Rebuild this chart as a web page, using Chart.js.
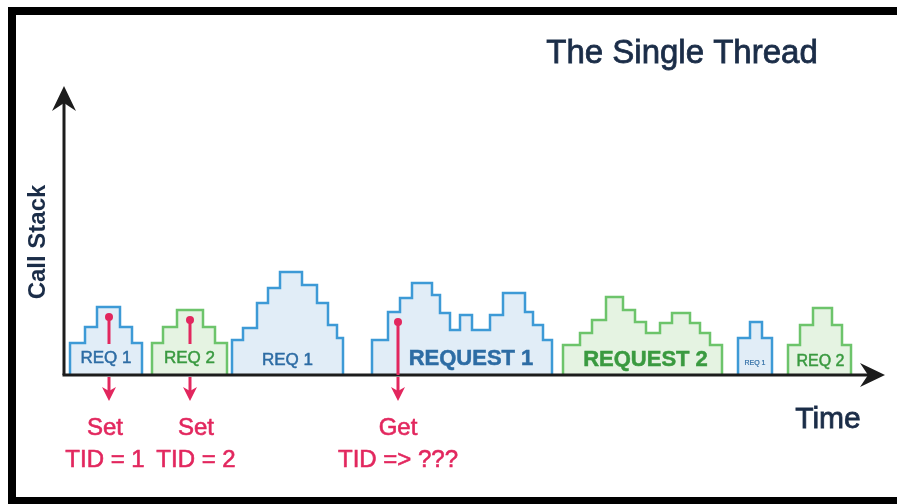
<!DOCTYPE html>
<html>
<head>
<meta charset="utf-8">
<script src="https://cdn.jsdelivr.net/npm/chart.js"></script>
<style>
  html, body { margin: 0; padding: 0; background: #fff; }
  #wrap { position: relative; width: 897px; height: 504px; }
</style>
</head>
<body>
<div id="wrap"><canvas id="threadChart" width="897" height="504"></canvas></div>
<script>
// each block: time breakpoints (start of every step + end) and call stack depth of each step
const blockLabels  = ['REQ 1', 'REQ 2', 'REQ 1', 'REQUEST 1', 'REQUEST 2', 'REQ 1', 'REQ 2'];
const blockRequest = [1, 2, 1, 1, 2, 1, 2];

const req1aTimes = [6, 21, 33, 56, 68, 78];
const req1aDepth = [32, 48, 68, 48, 32];
const req2aTimes = [88, 99, 113, 139, 151, 163];
const req2aDepth = [32, 48, 65, 48, 32];
const req1bTimes = [168, 179, 193, 204, 216, 238, 253, 264, 273, 279];
const req1bDepth = [35, 47, 72, 87, 103, 90, 72, 50, 37];
const req1cTimes = [308, 324, 336, 348, 368, 376, 386, 396, 408, 426, 439, 461, 469, 479, 488];
const req1cDepth = [35, 63, 77, 92, 80, 62, 45, 60, 45, 60, 82, 63, 50, 35];
const req2bTimes = [499, 516, 528, 542, 559, 571, 582, 596, 608, 626, 636, 646, 658];
const req2bDepth = [30, 42, 55, 78, 65, 53, 42, 52, 62, 52, 42, 30];
const req1dTimes = [674, 686, 698, 708];
const req1dDepth = [37, 53, 37];
const req2cTimes = [724, 736, 749, 768, 778, 787];
const req2cDepth = [30, 50, 67, 50, 30];

// thread-local storage calls
const pinTimes  = [45, 126, 334];
const pinDepth  = [58, 55, 53];
const pinAction = ['Set', 'Set', 'Get'];
const pinValue  = ['TID = 1', 'TID = 2', 'TID => ???'];

const timeMax = 820;
const depthMax = 288;

const blocks = [
  [req1aTimes, req1aDepth], [req2aTimes, req2aDepth], [req1bTimes, req1bDepth],
  [req1cTimes, req1cDepth], [req2bTimes, req2bDepth], [req1dTimes, req1dDepth],
  [req2cTimes, req2cDepth]
];

// styles
const reqStroke = { 1: '#3d9ad6', 2: '#6dc46b' };
const reqFill   = { 1: '#e1edf7', 2: '#e5f3e2' };
const reqText   = { 1: '#2d6ca4', 2: '#3a9a40' };
const labelFont  = ['17px', '17px', '17px', 'bold 22px', 'bold 22px', '7px', '16px'];
const labelNudge = [0, 0, 0, 9, 3, 0, 1];
const labelDrop  = [12, 12, 10, 10, 9, 10, 9];
const pinNudge   = [-4, 6, 0];
const axisColor = '#1c1c1c';
const inkColor  = '#1b2d48';
const pinColor  = '#e2275e';
const FONT = '"Liberation Sans", Arial, Helvetica, sans-serif';

function stepPoints(times, depth) {
  const pts = [{ x: times[0], y: 0 }];
  depth.forEach((d, i) => pts.push({ x: times[i], y: d }));
  pts.push({ x: times[times.length - 1], y: 0 });
  return pts;
}

function arrowHead(c, tx, ty, dx, dy, len, half, notch) {
  const px = -dy, py = dx;
  const bx = tx - dx * len, by = ty - dy * len;
  c.beginPath();
  c.moveTo(tx, ty);
  c.lineTo(bx + px * half, by + py * half);
  c.lineTo(tx - dx * (len - notch), ty - dy * (len - notch));
  c.lineTo(bx - px * half, by - py * half);
  c.closePath();
  c.fill();
}

// medium weight look: fill plus a thin outline in the same colour
function heavyText(c, txt, x, y, w) {
  c.fillText(txt, x, y);
  c.lineWidth = w;
  c.strokeStyle = c.fillStyle;
  c.strokeText(txt, x, y);
}

const decor = {
  id: 'decor',
  beforeDraw(chart) {
    const c = chart.ctx;
    c.save();
    c.fillStyle = '#ffffff';
    c.fillRect(0, 0, chart.width, chart.height);
    c.fillStyle = '#000000';
    c.fillRect(8, 7, chart.width - 8, 8);
    c.fillRect(8, 7, 8, chart.height - 7);
    c.fillRect(8, chart.height - 7, chart.width - 8, 7);
    c.restore();
  },
  afterDatasetsDraw(chart) {
    const c = chart.ctx, xs = chart.scales.x, ys = chart.scales.y, a = chart.chartArea;
    c.save();

    // axes with arrows
    c.strokeStyle = axisColor; c.fillStyle = axisColor; c.lineWidth = 3;
    c.beginPath(); c.moveTo(a.left - 1.5, a.bottom); c.lineTo(a.right - 12, a.bottom); c.stroke();
    c.beginPath(); c.moveTo(a.left, a.bottom); c.lineTo(a.left, a.top + 12); c.stroke();
    arrowHead(c, a.right + 1, a.bottom, 1, 0, 25, 12, 8);
    arrowHead(c, a.left, a.top - 1, 0, -1, 25, 12, 8);

    // block labels
    const spans = [];
    c.textAlign = 'center'; c.textBaseline = 'alphabetic';
    blocks.forEach((b, i) => {
      const t = b[0];
      const x = xs.getPixelForValue((t[0] + t[t.length - 1]) / 2) + labelNudge[i];
      c.font = labelFont[i] + ' ' + FONT;
      c.fillStyle = reqText[blockRequest[i]];
      heavyText(c, blockLabels[i], x, a.bottom - labelDrop[i], i === 5 ? 0.2 : 0.5);
      spans.push([x, c.measureText(blockLabels[i]).width / 2 + 3]);
    });

    // pins
    pinTimes.forEach((t, i) => {
      c.strokeStyle = pinColor; c.fillStyle = pinColor; c.lineWidth = 3;
      const x = xs.getPixelForValue(t);
      const yTop = ys.getPixelForValue(pinDepth[i]);
      const broken = spans.some(s => Math.abs(x - s[0]) < s[1]);
      c.beginPath(); c.moveTo(x, yTop);
      c.lineTo(x, broken ? ys.getPixelForValue(31) : a.bottom); c.stroke();
      c.beginPath(); c.moveTo(x, a.bottom + 2); c.lineTo(x, a.bottom + 16); c.stroke();
      arrowHead(c, x, a.bottom + 26, 0, 1, 14, 7, 4);
      c.beginPath(); c.arc(x, yTop, 4, 0, Math.PI * 2); c.fill();

      c.font = '24px ' + FONT;
      c.textAlign = 'center';
      heavyText(c, pinAction[i], x + pinNudge[i], a.bottom + 60, 0.6);
      heavyText(c, pinValue[i], x + pinNudge[i], a.bottom + 92, 0.6);
    });

    // titles
    c.fillStyle = inkColor;
    c.font = '33px ' + FONT;
    heavyText(c, 'The Single Thread', 682, 63, 0.8);
    c.font = '30px ' + FONT;
    heavyText(c, 'Time', 828, 428, 0.8);
    c.save();
    c.translate(45, 242);
    c.rotate(-Math.PI / 2);
    c.font = 'bold 24px ' + FONT;
    c.fillText('Call Stack', 0, 0);
    c.restore();

    c.restore();
  }
};

const ctx = document.getElementById('threadChart').getContext('2d');
new Chart(ctx, {
  type: 'line',
  data: {
    datasets: blocks.map((b, i) => ({
      label: blockLabels[i],
      data: stepPoints(b[0], b[1]),
      stepped: true,
      fill: 'origin',
      borderColor: reqStroke[blockRequest[i]],
      backgroundColor: reqFill[blockRequest[i]],
      borderWidth: 2.5,
      borderJoinStyle: 'miter',
      pointRadius: 0,
      tension: 0
    }))
  },
  options: {
    responsive: false,
    animation: false,
    devicePixelRatio: 1,
    layout: { padding: { left: 64, right: 13, top: 87, bottom: 129 } },
    scales: {
      x: { type: 'linear', min: 0, max: timeMax, display: false },
      y: { min: 0, max: depthMax, display: false }
    },
    plugins: { legend: { display: false }, tooltip: { enabled: false } }
  },
  plugins: [decor]
});
</script>
</body>
</html>
